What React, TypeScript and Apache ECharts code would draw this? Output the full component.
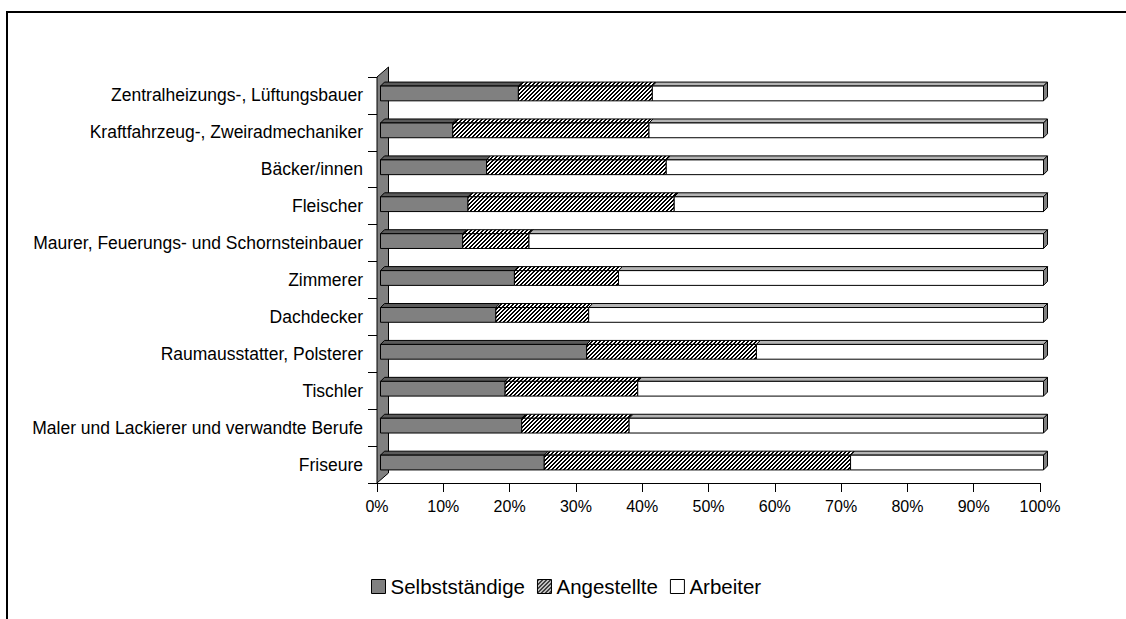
import React, { useEffect, useRef } from "react";
import * as echarts from "echarts";

const categories = [
  "Zentralheizungs-, Lüftungsbauer",
  "Kraftfahrzeug-, Zweiradmechaniker",
  "Bäcker/innen",
  "Fleischer",
  "Maurer, Feuerungs- und Schornsteinbauer",
  "Zimmerer",
  "Dachdecker",
  "Raumausstatter, Polsterer",
  "Tischler",
  "Maler und Lackierer und verwandte Berufe",
  "Friseure",
];
const selbststaendige = [20.8, 10.9, 16.0, 13.2, 12.4, 20.2, 17.4, 31.1, 18.8, 21.3, 24.7];
const angestellte = [20.2, 29.6, 27.1, 31.1, 10.0, 15.7, 14.0, 25.6, 20.0, 16.2, 46.2];
const arbeiter = [59.0, 59.5, 56.9, 55.7, 77.6, 64.1, 68.6, 43.3, 61.2, 62.5, 29.1];
const seriesNames = ["Selbstständige", "Angestellte", "Arbeiter"];
const xTicks = { min: 0, max: 100, interval: 10 };

const FONT = "'Liberation Sans', Arial, sans-serif";
const GRID_L = 377;
const GRID_T = 77;
const GRID_R = 1040;
const GRID_B = 483;

function makeHatch() {
  const c = document.createElement("canvas");
  c.width = 4;
  c.height = 4;
  const ctx = c.getContext("2d")!;
  ctx.fillStyle = "#ffffff";
  ctx.fillRect(0, 0, 4, 4);
  ctx.fillStyle = "#000000";
  for (let x = 0; x < 4; x++)
    for (let y = 0; y < 4; y++) if ((x + y) % 4 < 2) ctx.fillRect(x, y, 1, 1);
  return { image: c, repeat: "repeat", imageWidth: 4, imageHeight: 4 } as any;
}

export default function App() {
  const ref = useRef<HTMLDivElement>(null);
  useEffect(() => {
    if (!ref.current) return;
    const chart = echarts.init(ref.current, undefined, { renderer: "svg" });
    const hatch = makeHatch();
    const fronts = ["#808080", hatch, "#ffffff"];
    const tops = ["#5a5a5a", hatch, "#b4b4b4"];
    const lists = [selbststaendige, angestellte, arbeiter];
    const cum = categories.map(() => 0);
    const seriesData = lists.map((vals) =>
      vals.map((v, i) => {
        const item = [cum[i], v, i];
        cum[i] += v;
        return item;
      })
    );
    const D = 4;
    const makeRender = (si: number) => (params: any, api: any) => {
      const start = api.value(0);
      const len = api.value(1);
      const cat = api.value(2);
      const p0 = api.coord([start, cat]);
      const p1 = api.coord([start + len, cat]);
      const band = api.size([0, 1])[1];
      const h = band * 0.4;
      const x0 = p0[0] + 3.5;
      const x1 = p1[0] + 3.5;
      const yc = p0[1] - 2;
      const top = yc - h / 2;
      const bot = yc + h / 2;
      const stroke = { stroke: "#000", lineWidth: 1 };
      const children: any[] = [
        {
          type: "polygon",
          shape: { points: [[x0, top], [x0 + D, top - D], [x1 + D, top - D], [x1, top]] },
          style: { fill: tops[si], ...stroke },
        },
        {
          type: "rect",
          shape: { x: x0, y: top, width: x1 - x0, height: h },
          style: { fill: fronts[si], ...stroke },
        },
      ];
      if (si === 2) {
        children.push({
          type: "polygon",
          shape: { points: [[x1, top], [x1 + D, top - D], [x1 + D, bot - D], [x1, bot]] },
          style: { fill: "#808080", ...stroke },
        });
      }
      return { type: "group", children };
    };

    chart.setOption({
      animation: false,
      backgroundColor: "#ffffff",
      grid: {
        left: GRID_L,
        top: GRID_T,
        right: 1126 - GRID_R,
        bottom: 619 - GRID_B,
        containLabel: false,
      },
      legend: {
        left: 371,
        top: 576,
        padding: 0,
        itemWidth: 14,
        itemHeight: 14,
        itemGap: 12,
        selectedMode: false,
        textStyle: { fontFamily: FONT, fontSize: 20.5, color: "#000" },
        data: seriesNames.map((n, i) => ({
          name: n,
          icon: "rect",
          itemStyle: { color: fronts[i], borderColor: "#000", borderWidth: 1 },
        })),
      },
      xAxis: {
        type: "value",
        min: xTicks.min,
        max: xTicks.max,
        interval: xTicks.interval,
        splitLine: { show: false },
        axisLine: { show: true, lineStyle: { color: "#000", width: 1 } },
        axisTick: { show: true, length: 9, lineStyle: { color: "#000" } },
        axisLabel: {
          formatter: "{value}%",
          fontFamily: FONT,
          fontSize: 16,
          color: "#000",
          margin: 15,
        },
      },
      yAxis: {
        type: "category",
        inverse: true,
        data: categories,
        axisLine: { show: true, lineStyle: { color: "#000", width: 1 } },
        axisTick: { show: true, length: 9, lineStyle: { color: "#000" } },
        axisLabel: { fontFamily: FONT, fontSize: 17.5, color: "#000", margin: 14 },
      },
      graphic: [
        {
          type: "polyline",
          z: 0,
          shape: { points: [[7, 700], [7, 12], [1200, 12]] },
          style: { fill: "none", stroke: "#000", lineWidth: 2 },
        },
        {
          type: "polygon",
          z: 1,
          shape: {
            points: [
              [GRID_L, GRID_B],
              [GRID_L, GRID_T],
              [GRID_L + 11.5, GRID_T - 10],
              [GRID_L + 11.5, GRID_B - 10],
            ],
          },
          style: { fill: "#808080", stroke: "#000", lineWidth: 1 },
        },
      ],
      series: seriesNames.map((n, si) => ({
        type: "custom",
        name: n,
        z: 5,
        itemStyle: { color: fronts[si] },
        encode: { x: [0, 1], y: 2 },
        data: seriesData[si],
        renderItem: makeRender(si),
      })),
    });
    return () => chart.dispose();
  }, []);
  return (
    <div
      ref={ref}
      style={{ position: "fixed", left: 0, top: 0, width: 1126, height: 619 }}
    />
  );
}
